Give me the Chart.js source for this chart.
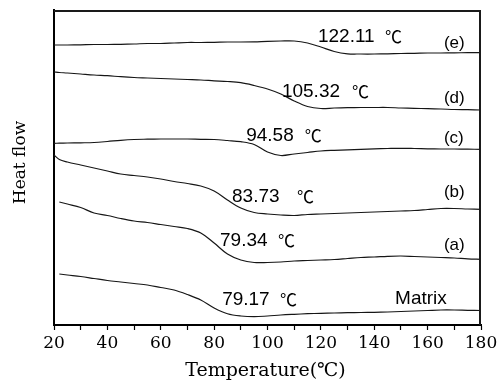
<!DOCTYPE html>
<html>
<head>
<meta charset="utf-8">
<script src="https://cdn.jsdelivr.net/npm/chart.js@4.4.1/dist/chart.umd.min.js"></script>
<style>
html,body{margin:0;padding:0;background:#fff;}
#wrap{width:501px;height:385px;position:relative;}
</style>
</head>
<body>
<div id="wrap"><canvas id="c" width="501" height="385"></canvas></div>
<script>
// Temperature grid (°C)
const temps = [20,22,25,30,35,40,45,50,55,60,65,70,75,80,85,90,95,100,105,110,115,120,125,130,135,140,145,150,155,160,165,170,175,180];
// Heat flow (arbitrary units, curves offset vertically)
const curveE = [280,280,280,280.2,280.5,280.5,280.7,281,281.5,281.5,282,282.5,282.5,282.7,283,283,283.2,283.7,284,284,282,278,273.5,271.2,271,271,271.2,271.5,271.7,272,272,272.2,272.3,272.3];
const curveD = [253,252.5,252,251,250,249.3,248.3,247.5,247,246.5,246,245.5,245,244.2,243.5,242.3,239.5,236,231,224,218.5,216.5,217,217.3,217.5,217.5,217.5,217,216.7,216.3,216,215.5,215.3,215];
const curveC = [181.7,181.8,182,182.2,182.5,183.5,184.7,185.5,185.8,186,186,186,185.7,185.5,184.5,183.3,180.5,173,169.5,171,172.5,174,174.7,175.2,175.7,176.2,176.5,176.7,176.5,176.2,176,176,175.8,175.7];
const curveB = [170,165.5,163,160,157,154,151,149.5,148,146,143.5,141.5,139,134,125,117,112.5,111,110,109.5,110.5,111,111.5,112,112.5,113,113.5,114,114.5,115.5,116.5,116.5,116,115.7];
const curveA = [null,123,121,117.5,112,109.5,106.5,104,102.5,100.5,98.5,96.5,92,82,71,65,62.5,62.5,63,64,64.5,65,65.5,66.5,67.5,68,68.7,69,68.5,68,67.5,67,66.2,65.7];
const curveMatrix = [null,51,50,48.5,46.5,44.5,43,41.5,40,37.5,35,30.5,25,17,11.3,9,8.3,9,10,10.7,11.3,11.7,12,12.3,12.5,12.7,13,13.5,14,14.5,15,15,14.7,14.5];
// Axis tick labels
const xTickLabels = [20,40,60,80,100,120,140,160,180];
// Curve names and glass transition temperatures
const curveNames = ['(e)','(d)','(c)','(b)','(a)','Matrix'];
const tgValues = ['122.11','105.32','94.58','83.73','79.34','79.17'];
// Annotation anchors in data units [temperature, heat flow]
const nameAnchors = [[166.1,282],[166.1,227],[166.1,187],[166.1,132.5],[166.1,80],[147.8,26.5]];
const tgAnchors = [[118.9,288],[105.4,233.5],[92.0,189],[86.7,128.5],[82.2,84.5],[83.0,25.5]];
const unitAnchors = [[144.0,288],[131.7,233.5],[114.0,189],[111.1,128.5],[103.9,84.5],[104.7,25.5]];

const series = [curveE, curveD, curveC, curveB, curveA, curveMatrix];
const datasets = series.map(s => ({
  data: temps.map((t,i) => ({x:t, y:s[i]})),
  borderColor: '#161616',
  borderWidth: 1.2,
  pointRadius: 0,
  tension: 0.35,
  fill: false,
  spanGaps: false
}));

const labelPlugin = {
  id: 'annot',
  afterDatasetsDraw(chart) {
    const ctx = chart.ctx, xs = chart.scales.x, ys = chart.scales.y;
    ctx.save();
    ctx.fillStyle = '#000';
    ctx.textBaseline = 'middle';
    ctx.textAlign = 'left';
    tgValues.forEach((v,i) => {
      ctx.font = '19px "Liberation Sans", Arial, sans-serif';
      ctx.fillText(v, xs.getPixelForValue(tgAnchors[i][0]), ys.getPixelForValue(tgAnchors[i][1]));
      ctx.font = '17px "Noto Sans CJK SC", sans-serif';
      ctx.fillText('℃', xs.getPixelForValue(unitAnchors[i][0]), ys.getPixelForValue(unitAnchors[i][1]));
    });
    curveNames.forEach((n,i) => {
      ctx.font = (n === 'Matrix' ? '19px' : '17px') + ' "Liberation Sans", Arial, sans-serif';
      ctx.fillText(n, xs.getPixelForValue(nameAnchors[i][0]), ys.getPixelForValue(nameAnchors[i][1]));
    });
    // axis titles
    const a = chart.chartArea;
    ctx.textAlign = 'center';
    ctx.font = '19px "DejaVu Serif", "Noto Sans CJK SC", serif';
    ctx.fillText('Temperature(℃)', (a.left + a.right) / 2 - 2, a.bottom + 46);
    ctx.translate(a.left - 33, (a.top + a.bottom) / 2 - 5);
    ctx.rotate(-Math.PI / 2);
    ctx.font = '17px "DejaVu Serif", serif';
    ctx.fillText('Heat flow', 0, 0);
    ctx.restore();
  }
};

const framePlugin = {
  id: 'frame',
  afterDraw(chart) {
    const ctx = chart.ctx, a = chart.chartArea;
    ctx.save();
    ctx.fillStyle = '#1a1a1a';
    ctx.fillRect(a.left, a.top, a.right - a.left, 2);
    ctx.fillRect(a.right - 2, a.top, 2, a.bottom - a.top);
    ctx.restore();
  }
};

new Chart(document.getElementById('c'), {
  type: 'line',
  data: { datasets },
  options: {
    responsive: false,
    animation: false,
    events: [],
    layout: { padding: { top: 10, right: 20, left: 0, bottom: 0 } },
    plugins: { legend: { display: false }, tooltip: { enabled: false }, title: { display: false } },
    scales: {
      x: {
        type: 'linear', position: 'bottom', min: 20, max: 180,
        ticks: {
          stepSize: 10, autoSkip: false, maxRotation: 0, padding: 3,
          color: '#000',
          font: { family: '"DejaVu Serif", serif', size: 17 },
          callback: v => xTickLabels.includes(v) ? String(v) : ''
        },
        grid: { drawOnChartArea: false, drawTicks: true, tickLength: 5, tickColor: '#000', tickWidth: 1.2 },
        border: { display: true, color: '#000', width: 2 },
        afterFit: s => { s.height = 60; }
      },
      y: {
        type: 'linear', position: 'left', min: 0, max: 315,
        ticks: { display: false },
        grid: { display: false, drawTicks: false },
        border: { display: true, color: '#000', width: 2 },
        afterFit: s => { s.width = 54; }
      }
    }
  },
  plugins: [labelPlugin, framePlugin]
});
</script>
</body>
</html>
